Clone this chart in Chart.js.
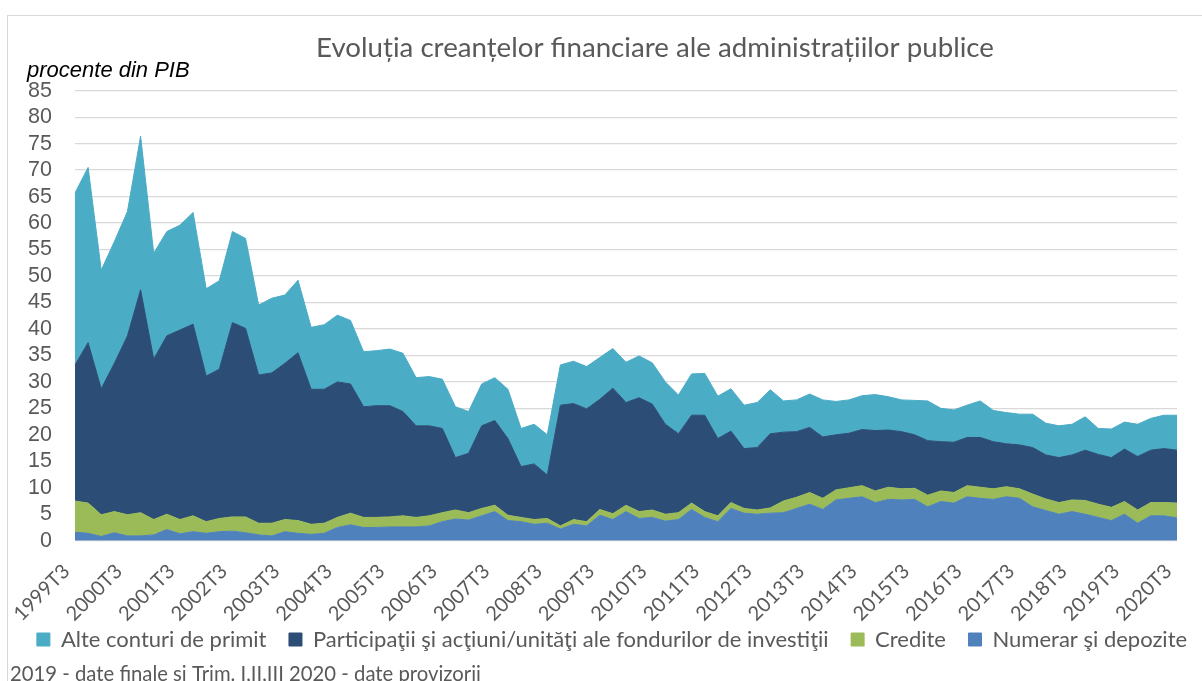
<!DOCTYPE html>
<html>
<head>
<meta charset="utf-8">
<title>Evoluția creanțelor financiare ale administrațiilor publice</title>
<script src="https://cdn.jsdelivr.net/npm/chart.js@4.4.1/dist/chart.umd.min.js"></script>
<style>
  html, body { margin: 0; padding: 0; background: #fff; }
  #wrap { position: relative; width: 1202px; height: 681px; overflow: hidden; }
  #frame { position: absolute; left: 7px; top: 15px; width: 1400px; height: 900px; border: 1px solid #d9d9d9; }
  #chart { position: absolute; left: 0; top: 0; }
</style>
</head>
<body>
<div id="wrap">
  <div id="frame"></div>
  <canvas id="chart" width="1202" height="681"></canvas>
</div>
<script>
// quarters 1999T3 .. 2020T3
const quarters = [];
for (let y = 1999; y <= 2020; y++) {
  for (let q = 1; q <= 4; q++) {
    if ((y === 1999 && q < 3) || (y === 2020 && q > 3)) continue;
    quarters.push(y + "T" + q);
  }
}

// procente din PIB
const numerar = [
  1.6, 1.4, 0.8, 1.5, 0.9, 0.9, 1.1, 2.1, 1.3, 1.7,
  1.4, 1.7, 1.8, 1.5, 1.1, 0.9, 1.7, 1.4, 1.2, 1.4,
  2.5, 3.0, 2.5, 2.5, 2.6, 2.6, 2.6, 2.8, 3.6, 4.1,
  3.9, 4.7, 5.5, 3.8, 3.6, 3.1, 3.3, 2.2, 3.1, 2.8,
  4.8, 4.0, 5.5, 4.2, 4.4, 3.7, 4.0, 5.9, 4.4, 3.6,
  6.1, 5.2, 5.0, 5.2, 5.3, 6.1, 6.9, 5.9, 7.7, 8.0,
  8.3, 7.2, 7.8, 7.7, 7.8, 6.4, 7.4, 7.1, 8.3, 8.0,
  7.8, 8.3, 8.0, 6.4, 5.7, 5.0, 5.5, 5.0, 4.4, 3.8,
  5.0, 3.3, 4.7, 4.7, 4.3
];
const credite = [
  5.9, 5.7, 4.1, 4.0, 4.0, 4.4, 2.9, 2.9, 2.7, 3.0,
  2.2, 2.5, 2.7, 3.0, 2.2, 2.4, 2.3, 2.4, 1.9, 1.9,
  1.9, 2.2, 1.9, 1.9, 1.9, 2.1, 1.8, 1.9, 1.7, 1.7,
  1.4, 1.4, 1.2, 1.0, 0.8, 0.9, 0.9, 0.6, 0.9, 0.8,
  1.1, 1.1, 1.2, 1.3, 1.4, 1.3, 1.3, 1.2, 1.1, 1.1,
  1.1, 0.9, 0.8, 1.0, 2.2, 2.1, 2.2, 2.1, 1.9, 2.0,
  2.1, 2.2, 2.3, 2.1, 2.1, 2.2, 2.0, 2.0, 2.1, 2.1,
  2.0, 1.9, 1.8, 2.4, 2.2, 2.2, 2.2, 2.6, 2.5, 2.5,
  2.4, 2.5, 2.5, 2.5, 2.8
];
const participatii = [
  25.7, 30.3, 23.8, 28.0, 33.8, 42.1, 30.3, 33.7, 35.8, 36.2,
  27.5, 28.2, 36.7, 35.6, 28.0, 28.4, 29.5, 31.7, 25.5, 25.3,
  25.6, 24.4, 20.9, 21.1, 21.0, 19.7, 17.3, 17.0, 15.9, 9.9,
  11.2, 15.6, 16.0, 14.5, 9.6, 10.5, 8.2, 22.8, 21.9, 21.3,
  20.8, 23.7, 19.4, 21.5, 20.0, 17.0, 14.9, 16.6, 18.2, 14.6,
  13.5, 11.3, 11.8, 14.0, 13.0, 12.4, 12.3, 11.6, 10.4, 10.3,
  10.6, 11.4, 10.8, 10.8, 10.1, 10.3, 9.3, 9.5, 9.1, 9.4,
  8.9, 8.1, 8.3, 8.8, 8.3, 8.5, 8.5, 9.5, 9.4, 9.4,
  9.9, 10.1, 9.9, 10.2, 10.0
];
const alteConturi = [
  32.5, 33.1, 22.4, 23.0, 23.5, 29.0, 20.0, 19.7, 19.8, 21.1,
  16.5, 16.7, 17.2, 17.0, 13.2, 14.1, 12.9, 13.7, 11.7, 12.2,
  12.6, 12.0, 10.4, 10.4, 10.7, 11.0, 9.1, 9.3, 9.3, 9.6,
  7.9, 7.9, 8.1, 9.3, 7.2, 7.5, 7.6, 7.6, 8.0, 8.0,
  7.9, 7.5, 7.6, 7.9, 7.8, 8.0, 7.3, 7.8, 7.9, 8.0,
  8.0, 8.2, 8.5, 8.3, 5.9, 6.0, 6.3, 7.0, 6.3, 6.3,
  6.4, 6.8, 6.3, 6.0, 6.5, 7.5, 6.3, 6.1, 6.1, 6.9,
  5.9, 5.9, 5.8, 6.3, 6.0, 6.0, 5.8, 6.3, 4.9, 5.4,
  5.1, 6.1, 6.0, 6.3, 6.6
];

const gray = "#595959";
const legendGap = "    "; // space between legend entries

// title, unit label and source note, placed like in the original
const textLabels = {
  id: "textLabels",
  afterDraw(chart) {
    const ctx = chart.ctx;
    ctx.save();
    ctx.textBaseline = "alphabetic";
    ctx.fillStyle = gray;
    ctx.textAlign = "center";
    ctx.font = "27.7px Lato";
    ctx.fillText("Evoluția creanțelor financiare ale administrațiilor publice", 655, 57);
    ctx.textAlign = "left";
    ctx.font = "20.3px Lato";
    ctx.fillText("2019 - date finale si Trim. I,II,III 2020 - date provizorii", 10, 680.5);
    ctx.fillStyle = "#000";
    ctx.font = "italic 22px 'Liberation Sans', Arial, sans-serif";
    ctx.fillText("procente din PIB", 27, 77);
    ctx.restore();
  }
};

const area = (label, data, color, fill) => ({
  label,
  data,
  backgroundColor: color,
  borderColor: color,
  borderWidth: 1,
  pointRadius: 0,
  tension: 0,
  fill
});

new Chart(document.getElementById("chart"), {
  type: "line",
  data: {
    labels: quarters,
    datasets: [
      area("Numerar şi depozite", numerar, "#4f81bd", "origin"),
      area("Credite", credite, "#9bbb59", "-1"),
      area("Participaţii şi acţiuni/unităţi ale fondurilor de investiţii", participatii, "#2c4d75", "-1"),
      area("Alte conturi de primit", alteConturi, "#4bacc6", "-1")
    ]
  },
  options: {
    responsive: false,
    animation: false,
    layout: { padding: { left: 22, right: 0, top: 90.7, bottom: 20.5 } },
    plugins: {
      legend: {
        position: "bottom",
        reverse: true,
        labels: {
          boxWidth: 13,
          boxHeight: 13,
          padding: 0,
          color: gray,
          font: { family: "Lato", size: 22 },
          generateLabels: (chart) =>
            Chart.defaults.plugins.legend.labels.generateLabels(chart).map((item) => {
              if (item.datasetIndex > 0) item.text += legendGap;
              return item;
            })
        }
      },
      tooltip: { enabled: false }
    },
    scales: {
      x: {
        grid: { display: false, drawTicks: false },
        border: { display: false },
        ticks: {
          autoSkip: false,
          minRotation: 45,
          maxRotation: 45,
          padding: 18.8,
          labelOffset: -8.5,
          color: gray,
          font: { family: "Lato", size: 20 },
          callback: function (value) {
            const l = this.getLabelForValue(value);
            return l.endsWith("T3") ? l : "";
          }
        },
        afterFit: (scale) => {
          scale.height = 87.8;
          scale.paddingRight = 25;
        }
      },
      y: {
        stacked: true,
        min: 0,
        max: 85,
        ticks: {
          stepSize: 5,
          maxTicksLimit: 20,
          autoSkip: false,
          padding: 23,
          color: gray,
          font: { family: "'Liberation Sans', Arial", size: 21.5 }
        },
        grid: { color: "#d9d9d9", lineWidth: 1.3, drawTicks: false },
        border: { display: false },
        afterFit: (scale) => { scale.width = 53; }
      }
    }
  },
  plugins: [textLabels]
});
</script>
</body>
</html>
